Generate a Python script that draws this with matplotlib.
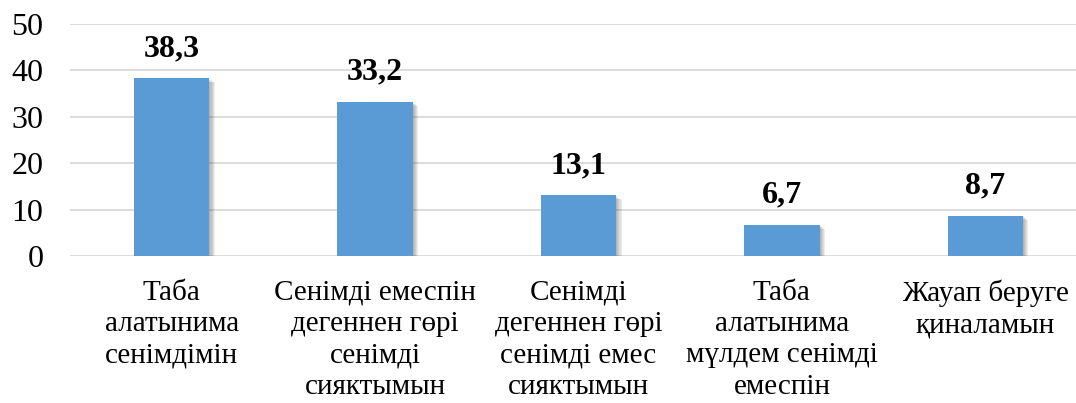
import matplotlib
matplotlib.use("Agg")
import matplotlib.pyplot as plt
import matplotlib.patheffects as pe

categories = [
    "Таба\nалатынима\nсенімдімін",
    "Сенімді емеспін\nдегеннен гөрі\nсенімді\nсияктымын",
    "Сенімді\nдегеннен гөрі\nсенімді емес\nсияктымын",
    "Таба\nалатынима\nмүлдем сенімді\nемеспін",
    "Жауап беруге\nқиналамын",
]
values = [38.3, 33.2, 13.1, 6.7, 8.7]
yticks = [0, 10, 20, 30, 40, 50]

plt.rcParams['font.family'] = ['Liberation Serif', 'DejaVu Serif']

fig = plt.figure(figsize=(10.76, 4.03), dpi=100)
ax = fig.add_axes([70/1076, 147/403, 1017/1076, 232/403])

x = list(range(len(values)))
bars = ax.bar(x, values, width=0.37, color='#5B9BD5', zorder=3)
shadow = []
for k in range(1, 6):
    shadow.append(pe.SimplePatchShadow(offset=(k * 0.8, -k * 0.6),
                                       shadow_rgbFace='#404040', alpha=0.09))
for b in bars:
    b.set_path_effects(shadow + [pe.Normal()])

for xi, v in zip(x, values):
    ax.annotate(f"{v:.1f}".replace('.', ','), (xi, v), xytext=(0, 11),
                textcoords='offset points', ha='center', va='bottom',
                fontsize=23, fontweight='bold', color='black')

ax.set_xlim(-0.5, 4.5)
ax.set_ylim(0, 50)
ax.set_yticks(yticks)
ax.set_yticklabels([str(t) for t in yticks], fontsize=23)
ax.set_xticks(x)
ax.set_xticklabels(categories, fontsize=21, linespacing=1.27)
ax.tick_params(axis='both', length=0)
ax.tick_params(axis='y', pad=19)
ax.tick_params(axis='x', pad=17)
for s in ax.spines.values():
    s.set_visible(False)
ax.grid(axis='y', color='#D9D9D9', linewidth=1.3, zorder=0)
ax.set_axisbelow(True)

fig.savefig("out.png", dpi=100)
